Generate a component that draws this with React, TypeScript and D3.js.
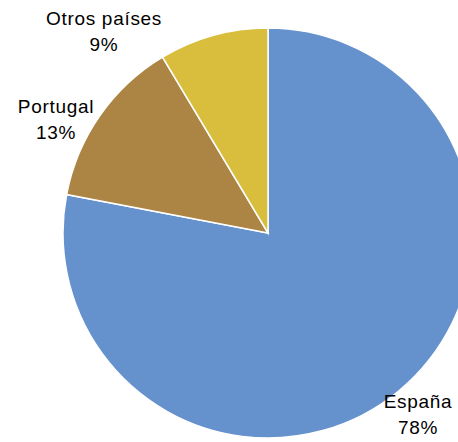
import React from "react";
import * as d3 from "d3";

const categories = ["España", "Portugal", "Otros países"];
const values = [78.0, 13.4, 8.6];
const percentLabels = ["78%", "13%", "9%"];
const colors = ["#6591CD", "#AC8443", "#D9BD3C"];
// label anchor (center x, first baseline y)
const labelPos: [number, number][] = [
  [418, 408],
  [56, 113],
  [104, 25],
];

const W = 458;
const H = 442;

export default function App() {
  const cx = 268;
  const cy = 233;
  const r = 205;
  const pie = d3.pie<number>().sort(null).value((d) => d)(values);
  const arc = d3.arc<d3.PieArcDatum<number>>().innerRadius(0).outerRadius(r);
  return (
    <svg
      width={W}
      height={H}
      style={{ position: "absolute", left: 0, top: 0, background: "#fff" }}
      fontFamily="Liberation Sans, Arial, sans-serif"
    >
      <g transform={`translate(${cx},${cy})`}>
        {pie.map((p, i) => (
          <path key={i} d={arc(p) || ""} fill={colors[i]} stroke="#fff" strokeWidth={1.5} />
        ))}
      </g>
      {categories.map((c, i) => (
        <text key={c} x={labelPos[i][0]} y={labelPos[i][1]} textAnchor="middle" fontSize={19} letterSpacing={0.7} fill="#000">
          <tspan x={labelPos[i][0]}>{c}</tspan>
          <tspan x={labelPos[i][0]} dy={26}>{percentLabels[i]}</tspan>
        </text>
      ))}
    </svg>
  );
}
